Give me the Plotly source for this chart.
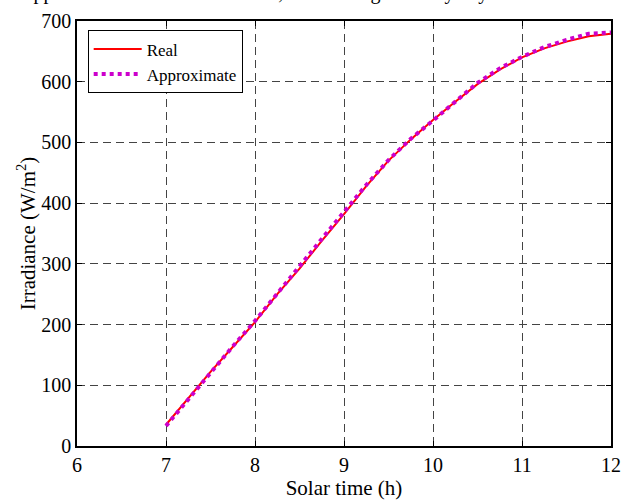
import plotly.graph_objects as go

hours = [7.0, 7.25, 7.5, 7.75, 8.0, 8.25, 8.5, 8.75, 9.0, 9.25, 9.5, 9.75,
         10.0, 10.25, 10.5, 10.75, 11.0, 11.25, 11.5, 11.75, 12.0]
real = [35, 78, 122, 163, 204, 250, 292, 338, 382, 428, 470, 505,
        537, 567, 596, 620, 640, 655, 666, 675, 679]
approx = [33, 77, 121, 164, 206, 252, 296, 341, 385, 430, 471, 506,
          536, 566, 598, 622, 641, 657, 669, 679, 681]
x_ticks = [6, 7, 8, 9, 10, 11, 12]
y_ticks = [0, 100, 200, 300, 400, 500, 600, 700]

FONT = "Liberation Serif, Times New Roman, serif"

fig = go.Figure()
fig.add_trace(go.Scatter(x=hours, y=real, mode="lines", name="Real",
                         line=dict(color="#ff0000", width=2)))
fig.add_trace(go.Scatter(x=hours, y=approx, mode="lines", name="Approximate",
                         line=dict(color="#cc00cc", width=4, dash="dot")))

axis_common = dict(showline=True, linecolor="black", linewidth=1.5, mirror="ticks",
                   ticks="inside", ticklen=5, tickcolor="black",
                   showgrid=True, gridcolor="#444444", griddash="8px,5px", gridwidth=1,
                   zeroline=False, tickfont=dict(family=FONT, size=20, color="black"))

fig.update_xaxes(range=[6, 12], tickvals=x_ticks,
                 title=dict(text="Solar time (h)", font=dict(family=FONT, size=21, color="black"), standoff=0),
                 **axis_common)
fig.update_yaxes(range=[0, 700], tickvals=y_ticks,
                 title=dict(text="Irradiance (W/m<sup>2</sup>)", font=dict(family=FONT, size=21, color="black"), standoff=0),
                 **axis_common)

fig.add_annotation(text="Approximate and real irradiance, on one single cloudy day",
                   xref="paper", yref="paper", x=-0.113, y=1.0, xanchor="left", yanchor="bottom",
                   yshift=15, showarrow=False,
                   font=dict(family=FONT, size=20, color="black"))

fig.update_layout(
    width=631, height=500,
    margin=dict(l=77, r=10, t=19, b=49),
    paper_bgcolor="white", plot_bgcolor="white",
    font=dict(family=FONT, color="black"),
    legend=dict(x=0.02, y=0.978, xanchor="left", yanchor="top",
                bgcolor="white", bordercolor="black", borderwidth=1,
                font=dict(family=FONT, size=17, color="black"),
                tracegroupgap=0, itemwidth=48),
    showlegend=True,
)

fig.write_html("out.html")
